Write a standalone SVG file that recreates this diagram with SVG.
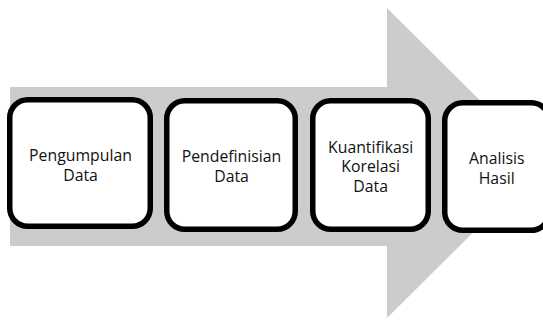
<svg xmlns="http://www.w3.org/2000/svg" width="543" height="320" viewBox="0 0 543 320">
  <style>
    .step rect { fill: #ffffff; stroke: #000000; stroke-width: 5.5; }
    .step text { font-family: "Open Sans", "Liberation Sans", sans-serif; font-size: 15.8px; fill: #111111; text-anchor: middle; }
    .flow { fill: #cccccc; }
  </style>
  <rect width="543" height="320" fill="#ffffff"/>
  <!-- process arrow behind the steps -->
  <g id="connectors">
    <polygon class="flow" points="10,87 387,87 387,8 543,163 387,318 387,246 10,246"/>
  </g>
  <g id="step1" class="step">
    <rect x="9.75" y="99.75" width="140.5" height="126.5" rx="18"/>
    <text x="80.5" y="160.7">Pengumpulan</text>
    <text x="80.5" y="180.7">Data</text>
  </g>
  <g id="step2" class="step">
    <rect x="166.75" y="100.75" width="128.5" height="128.5" rx="18"/>
    <text x="231.5" y="161.7">Pendefinisian</text>
    <text x="231.5" y="181.7">Data</text>
  </g>
  <g id="step3" class="step">
    <rect x="312.75" y="100.75" width="115.5" height="128.5" rx="18"/>
    <text x="370.7" y="152.7">Kuantifikasi</text>
    <text x="370.7" y="172.2">Korelasi</text>
    <text x="370.7" y="191.7">Data</text>
  </g>
  <g id="step4" class="step">
    <rect x="444.75" y="102.75" width="104.5" height="127.5" rx="18"/>
    <text x="496.7" y="164">Analisis</text>
    <text x="496.7" y="184">Hasil</text>
  </g>
</svg>
